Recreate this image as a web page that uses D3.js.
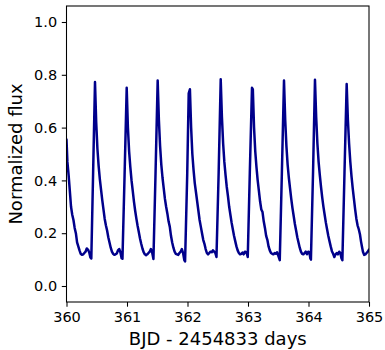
<!DOCTYPE html>
<html>
<head>
<meta charset="utf-8">
<script src="https://cdn.jsdelivr.net/npm/d3@7"></script>
<style>
  html, body { margin: 0; padding: 0; background: #fff; }
  svg { display: block; font-family: "DejaVu Sans", sans-serif; }
</style>
</head>
<body>
<svg id="chart" width="385" height="350"></svg>
<script>
// ---- data ----
const bjd = [
  // start
  360.000,360.015,360.035,360.055,360.075,360.095,360.115,360.135,360.155,360.175,360.195,360.215,360.235,360.255,360.275,360.295,360.315,360.335,360.355,360.375,360.395,360.410,360.440,
  // cycle 1
  360.471,360.491,360.511,360.531,360.551,360.571,360.591,360.611,360.631,360.651,360.671,360.691,360.711,360.731,360.751,360.771,360.791,360.811,360.831,360.851,360.871,360.891,360.911,360.925,360.960,
  // cycle 2
  360.995,361.015,361.035,361.055,361.075,361.095,361.115,361.135,361.155,361.175,361.195,361.215,361.235,361.255,361.275,361.295,361.315,361.335,361.355,361.375,361.395,361.415,361.437,361.472,
  // cycle 3
  361.507,361.527,361.547,361.567,361.587,361.607,361.627,361.647,361.667,361.687,361.707,361.727,361.747,361.767,361.787,361.807,361.827,361.847,361.867,361.887,361.907,361.927,361.947,361.960,361.995,
  // cycle 4
  362.020,362.040,362.060,362.080,362.100,362.120,362.140,362.160,362.180,362.200,362.220,362.240,362.260,362.280,362.300,362.320,362.340,362.360,362.380,362.400,362.420,362.440,362.460,362.479,362.515,
  // cycle 5
  362.549,362.569,362.589,362.609,362.629,362.649,362.669,362.689,362.709,362.729,362.749,362.769,362.789,362.809,362.829,362.849,362.869,362.889,362.909,362.929,362.949,362.969,362.985,362.996,363.030,
  // cycle 6
  363.066,363.080,363.100,363.120,363.140,363.160,363.180,363.200,363.220,363.240,363.260,363.280,363.300,363.320,363.340,363.360,363.380,363.400,363.420,363.440,363.460,363.480,363.500,363.525,363.560,
  // cycle 7
  363.595,363.615,363.635,363.655,363.675,363.695,363.715,363.735,363.755,363.775,363.795,363.815,363.835,363.855,363.875,363.895,363.915,363.935,363.955,363.975,363.995,364.015,364.030,364.040,364.075,
  // cycle 8
  364.107,364.127,364.147,364.167,364.187,364.207,364.227,364.247,364.267,364.287,364.307,364.327,364.347,364.367,364.387,364.407,364.427,364.447,364.467,364.487,364.507,364.527,364.545,364.560,364.595,
  // cycle 9
  364.631,364.651,364.671,364.691,364.711,364.731,364.751,364.771,364.791,364.811,364.831,364.851,364.867,364.883,364.900,364.920,364.940,364.960,364.980,365.000
];
const flux = [
  // start
  0.555,0.47,0.42,0.36,0.30,0.27,0.25,0.22,0.20,0.165,0.15,0.135,0.122,0.118,0.12,0.125,0.13,0.142,0.138,0.128,0.108,0.104,0.43,
  // cycle 1
  0.773,0.62,0.52,0.455,0.405,0.365,0.325,0.29,0.255,0.23,0.21,0.185,0.165,0.145,0.13,0.122,0.118,0.12,0.123,0.135,0.14,0.128,0.105,0.103,0.42,
  // cycle 2
  0.751,0.60,0.51,0.45,0.40,0.36,0.32,0.285,0.255,0.228,0.205,0.18,0.16,0.142,0.128,0.12,0.117,0.12,0.125,0.13,0.14,0.128,0.102,0.43,
  // cycle 3
  0.778,0.63,0.53,0.46,0.41,0.37,0.33,0.30,0.275,0.245,0.225,0.19,0.165,0.145,0.13,0.122,0.12,0.118,0.125,0.13,0.14,0.125,0.098,0.093,0.42,
  // cycle 4
  0.73,0.745,0.60,0.50,0.44,0.39,0.355,0.32,0.285,0.25,0.225,0.20,0.175,0.16,0.14,0.125,0.12,0.125,0.13,0.128,0.135,0.13,0.125,0.11,0.43,
  // cycle 5
  0.783,0.64,0.54,0.47,0.42,0.375,0.34,0.30,0.27,0.24,0.215,0.19,0.17,0.15,0.135,0.125,0.12,0.122,0.127,0.12,0.13,0.128,0.12,0.11,0.43,
  // cycle 6
  0.751,0.745,0.60,0.51,0.45,0.40,0.36,0.32,0.29,0.28,0.245,0.22,0.19,0.175,0.15,0.135,0.125,0.122,0.12,0.125,0.122,0.128,0.115,0.098,0.43,
  // cycle 7
  0.778,0.63,0.53,0.46,0.41,0.37,0.33,0.295,0.265,0.235,0.21,0.185,0.165,0.145,0.13,0.122,0.12,0.125,0.13,0.12,0.13,0.128,0.105,0.10,0.43,
  // cycle 8
  0.781,0.64,0.54,0.47,0.42,0.375,0.335,0.30,0.27,0.24,0.215,0.19,0.17,0.15,0.132,0.122,0.11,0.12,0.125,0.12,0.13,0.125,0.105,0.098,0.43,
  // cycle 9
  0.765,0.63,0.54,0.47,0.415,0.37,0.33,0.29,0.255,0.23,0.215,0.195,0.17,0.15,0.13,0.118,0.12,0.125,0.13,0.138
];
const xTicks = [360, 361, 362, 363, 364, 365];
const yTicks = [0.0, 0.2, 0.4, 0.6, 0.8, 1.0];
const xLabel = "BJD - 2454833 days";
const yLabel = "Normalized flux";

// ---- layout ----
const L = 66.5, R = 369, T = 6, B = 302;
const svg = d3.select("#chart");

const x = d3.scaleLinear().domain([360, 365]).range([L, R]);
const y = d3.scaleLinear().domain([-0.0606, 1.0606]).range([B, T]);

const points = bjd.map((t, i) => [t, flux[i]]);

svg.append("clipPath").attr("id", "clip")
  .append("rect").attr("x", L).attr("y", T).attr("width", R - L).attr("height", B - T);

svg.append("path")
  .datum(points)
  .attr("clip-path", "url(#clip)")
  .attr("fill", "none")
  .attr("stroke", "#00008B")
  .attr("stroke-width", 2.5)
  .attr("stroke-linejoin", "round")
  .attr("stroke-linecap", "round")
  .attr("d", d3.line().x(d => x(d[0])).y(d => y(d[1])));

// axes
const gx = svg.append("g").attr("transform", `translate(0,${B})`)
  .call(d3.axisBottom(x).tickValues(xTicks).tickFormat(d3.format("d")).tickSize(4.7).tickSizeOuter(0).tickPadding(4.7));
const gy = svg.append("g").attr("transform", `translate(${L},0)`)
  .call(d3.axisLeft(y).tickValues(yTicks).tickFormat(d3.format(".1f")).tickSize(4.7).tickSizeOuter(0).tickPadding(4.7));
[gx, gy].forEach(g => {
  g.select(".domain").remove();
  g.selectAll(".tick line").attr("stroke", "#000").attr("stroke-width", 1.07);
  g.selectAll(".tick text").attr("fill", "#000").style("font-size", "14.5px").style("font-family", "'DejaVu Sans', sans-serif");
});

// frame
svg.append("rect")
  .attr("x", L).attr("y", T).attr("width", R - L).attr("height", B - T)
  .attr("fill", "none").attr("stroke", "#000").attr("stroke-width", 1.07);

// labels
svg.append("text")
  .attr("x", (L + R) / 2).attr("y", 345)
  .attr("text-anchor", "middle")
  .style("font-size", "18px").attr("fill", "#000")
  .text(xLabel);
svg.append("text")
  .attr("transform", `translate(22,${(T + B) / 2}) rotate(-90)`)
  .attr("text-anchor", "middle")
  .style("font-size", "18px").attr("fill", "#000")
  .text(yLabel);
</script>
</body>
</html>
